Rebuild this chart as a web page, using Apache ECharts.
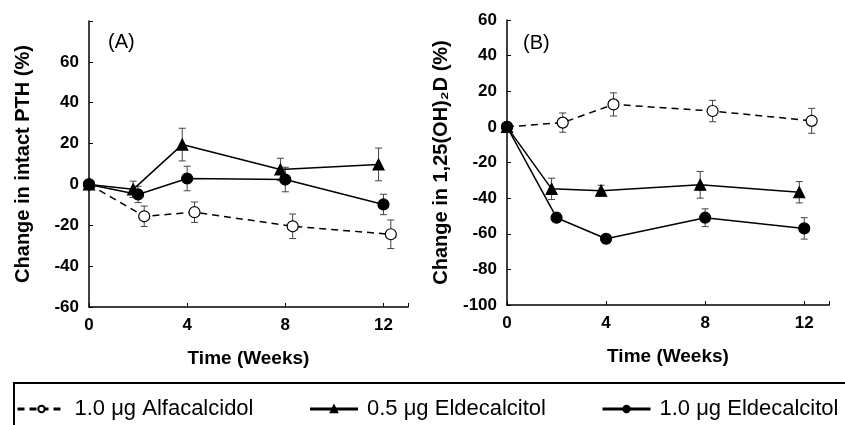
<!DOCTYPE html>
<html>
<head>
<meta charset="utf-8">
<script src="https://cdn.jsdelivr.net/npm/echarts@6/dist/echarts.min.js"></script>
<style>
  html, body { margin: 0; padding: 0; background: #fff; }
  #chart { width: 845px; height: 425px; }
</style>
</head>
<body>
<div id="chart"></div>
<script>
  // time points (weeks), slightly staggered per group like the original figure
  const weeksAlfa = [0, 2.25, 4.3, 8.3, 12.3]
  const weeksEld05 = [0, 1.8, 3.8, 7.8, 11.8]
  const weeksEld10 = [0, 2, 4, 8, 12]

  const seriesNames = ['1.0 μg Alfacalcidol', '0.5 μg Eldecalcitol', '1.0 μg Eldecalcitol']

  // (A) change in intact PTH (%)
  const pthAlfa = [0, -15.6, -13.6, -20.5, -24.4]
  const pthAlfaErr = [0, 5, 5, 6, 7]
  const pthEld05 = [0, -2.4, 19.5, 7.3, 9.8]
  const pthEld05Err = [0, 4, 8, 5.5, 8]
  const pthEld10 = [0, -4.9, 2.9, 2.4, -9.8]
  const pthEld10Err = [0, 4, 6, 6, 5]

  // (B) change in 1,25(OH)2D (%)
  const vdAlfa = [0, 2.4, 12.6, 8.9, 3.4]
  const vdAlfaErr = [0, 5.4, 6.5, 6, 7]
  const vdEld05 = [0, -34.8, -35.8, -32.5, -36.7]
  const vdEld05Err = [0, 6, 3, 7.5, 6]
  const vdEld10 = [0, -51, -62.8, -51, -57]
  const vdEld10Err = [0, 2, 2.5, 5, 6]

  const xTicks = [0, 4, 8, 12]

  const font = 'Liberation Sans, Arial, sans-serif'

  function pairs(xs, ys) {
    return xs.map((x, i) => [x, ys[i]])
  }
  function errRows(xs, ys, es) {
    return xs.map((x, i) => [x, ys[i] - es[i], ys[i] + es[i]]).filter((r, i) => es[i] > 0)
  }

  function renderErr(params, api) {
    const x = api.value(0)
    const lo = api.coord([x, api.value(1)])
    const hi = api.coord([x, api.value(2)])
    const w = 3.5
    const style = {stroke: '#444', lineWidth: 1}
    return {
      type: 'group',
      children: [
        {type: 'line', shape: {x1: lo[0], y1: lo[1], x2: hi[0], y2: hi[1]}, style: style},
        {type: 'line', shape: {x1: lo[0] - w, y1: lo[1], x2: lo[0] + w, y2: lo[1]}, style: style},
        {type: 'line', shape: {x1: hi[0] - w, y1: hi[1], x2: hi[0] + w, y2: hi[1]}, style: style}
      ]
    }
  }

  function errSeries(idx, xs, ys, es) {
    return {
      type: 'custom',
      xAxisIndex: idx,
      yAxisIndex: idx,
      renderItem: renderErr,
      data: errRows(xs, ys, es),
      z: 1,
      silent: true
    }
  }

  function lineSeries(idx, name, xs, ys, kind) {
    const s = {
      name: name,
      type: 'line',
      xAxisIndex: idx,
      yAxisIndex: idx,
      data: pairs(xs, ys),
      symbolSize: 11,
      z: 3,
      lineStyle: {color: '#000', width: 1.5},
      itemStyle: {color: '#000', borderColor: '#000', borderWidth: 1.2}
    }
    if (kind === 'open') {
      s.symbol = 'circle'
      s.lineStyle.type = [7, 5]
      s.itemStyle.color = '#fff'
      s.z = 2
    } else if (kind === 'tri') {
      s.symbol = 'triangle'
    } else {
      s.symbol = 'circle'
    }
    return s
  }

  function xAxis(idx) {
    return {
      type: 'value',
      gridIndex: idx,
      min: 0,
      max: 13,
      interval: 4,
      name: 'Time (Weeks)',
      nameLocation: 'middle',
      nameGap: 42,
      nameTextStyle: {color: '#000', fontFamily: font, fontWeight: 'bold', fontSize: 19},
      axisLine: {onZero: false, lineStyle: {color: '#000', width: 1.5}},
      axisTick: {inside: true, length: 4, lineStyle: {color: '#000'}},
      axisLabel: {
        color: '#000', fontFamily: font, fontWeight: 'bold', fontSize: 17, margin: 10,
        formatter: v => xTicks.indexOf(v) >= 0 ? String(v) : ''
      },
      splitLine: {show: false}
    }
  }

  function yAxis(idx, min, max, name, hideTop) {
    return {
      type: 'value',
      gridIndex: idx,
      min: min,
      max: max,
      interval: 20,
      name: name,
      nameLocation: 'middle',
      nameGap: 56,
      nameTextStyle: {color: '#000', fontFamily: font, fontWeight: 'bold', fontSize: 20},
      axisLine: {show: true, onZero: false, lineStyle: {color: '#000', width: 1.5}},
      axisTick: {inside: true, length: 4, lineStyle: {color: '#000'}},
      axisLabel: {
        color: '#000', fontFamily: font, fontWeight: 'bold', fontSize: 17, margin: 10,
        formatter: v => (hideTop && v === max) ? '' : String(v)
      },
      splitLine: {show: false}
    }
  }

  const chart = echarts.init(document.getElementById('chart'))

  chart.setOption({
    animation: false,
    backgroundColor: '#fff',
    grid: [
      {left: 89, top: 21, width: 319, height: 286},
      {left: 507, top: 20, width: 322, height: 285}
    ],
    xAxis: [xAxis(0), xAxis(1)],
    yAxis: [
      yAxis(0, -60, 80, 'Change in intact PTH (%)', true),
      yAxis(1, -100, 60, 'Change in 1,25(OH)₂D (%)', false)
    ],
    legend: {
      data: seriesNames,
      left: 16,
      top: 398,
      padding: 0,
      itemWidth: 48,
      itemHeight: 8,
      itemGap: 55,
      lineStyle: {width: 3},
      textStyle: {color: '#000', fontFamily: font, fontSize: 22, padding: [0, 0, 0, 4]}
    },
    graphic: [
      {type: 'rect', shape: {x: 14, y: 383, width: 840, height: 60}, style: {fill: 'none', stroke: '#000', lineWidth: 2}},
      {type: 'text', left: 108, top: 32, style: {text: '(A)', fill: '#000', font: '20px ' + font}},
      {type: 'text', left: 523, top: 33, style: {text: '(B)', fill: '#000', font: '20px ' + font}}
    ],
    series: [
      errSeries(0, weeksAlfa, pthAlfa, pthAlfaErr),
      errSeries(0, weeksEld05, pthEld05, pthEld05Err),
      errSeries(0, weeksEld10, pthEld10, pthEld10Err),
      lineSeries(0, seriesNames[0], weeksAlfa, pthAlfa, 'open'),
      lineSeries(0, seriesNames[1], weeksEld05, pthEld05, 'tri'),
      lineSeries(0, seriesNames[2], weeksEld10, pthEld10, 'filled'),
      errSeries(1, weeksAlfa, vdAlfa, vdAlfaErr),
      errSeries(1, weeksEld05, vdEld05, vdEld05Err),
      errSeries(1, weeksEld10, vdEld10, vdEld10Err),
      lineSeries(1, seriesNames[0], weeksAlfa, vdAlfa, 'open'),
      lineSeries(1, seriesNames[1], weeksEld05, vdEld05, 'tri'),
      lineSeries(1, seriesNames[2], weeksEld10, vdEld10, 'filled')
    ]
  })
</script>
</body>
</html>
